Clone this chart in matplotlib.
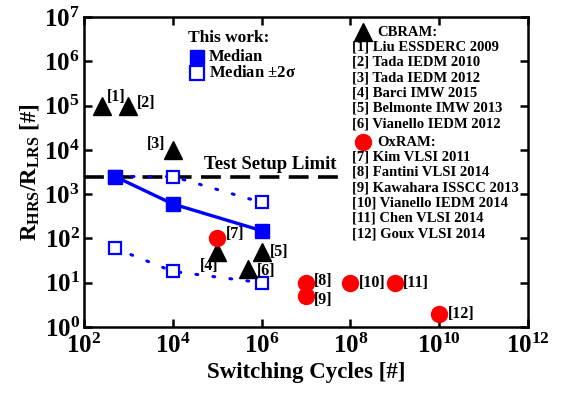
import matplotlib
matplotlib.use('Agg')
import matplotlib.pyplot as plt
from matplotlib.ticker import FixedLocator, FuncFormatter, NullLocator
import numpy as np

plt.rcParams['font.family'] = 'Liberation Serif'
plt.rcParams['font.weight'] = 'bold'
plt.rcParams['axes.labelweight'] = 'bold'
plt.rcParams['mathtext.fontset'] = 'custom'
plt.rcParams['mathtext.rm'] = 'Liberation Serif:bold'
plt.rcParams['mathtext.bf'] = 'Liberation Serif:bold'
plt.rcParams['mathtext.it'] = 'Liberation Serif:bold'

# this work: median and +/-2 sigma of the resistance window
work_cycles = [5e2, 1e4, 1e6]
work_median = [2500, 600, 150]
work_upper = [2500, 2500, 650]
work_lower = [60, 18, 10]

test_limit = 2500
test_limit_span = [1e2, 7e7]

# literature
cbram_refs = ['[1]', '[2]', '[3]', '[4]', '[5]', '[6]']
cbram_cycles = [2.5e2, 1e3, 1e4, 1e5, 1e6, 5e5]
cbram_ratio = [1e5, 1e5, 1e4, 50, 50, 20]
cbram_names = ['Liu ESSDERC 2009', 'Tada IEDM 2010', 'Tada IEDM 2012',
               'Barci IMW 2015', 'Belmonte IMW 2013', 'Vianello IEDM 2012']

oxram_refs = ['[7]', '[8]', '[9]', '[10]', '[11]', '[12]']
oxram_cycles = [1e5, 1e7, 1e7, 1e8, 1e9, 1e10]
oxram_ratio = [100, 10, 5, 10, 10, 2]
oxram_names = ['Kim VLSI 2011', 'Fantini VLSI 2014', 'Kawahara ISSCC 2013',
               'Vianello IEDM 2014', 'Chen VLSI 2014', 'Goux VLSI 2014']

# label offsets (points) and alignment for the reference tags
tag_style = {
    '[1]': (4, 6, 'left'), '[2]': (6, 1.5, 'left'), '[3]': (-5, 4, 'right'),
    '[4]': (1, -10, 'right'), '[5]': (6, 0, 'left'), '[6]': (6, -1, 'left'),
    '[7]': (6, 3, 'left'), '[8]': (6, 1.5, 'left'), '[9]': (6, -3, 'left'),
    '[10]': (6, 0, 'left'), '[11]': (6, 0, 'left'), '[12]': (6, 0, 'left'),
}

blue = '#0000ff'
red = '#ff0000'

fig = plt.figure(figsize=(5.65, 3.94), dpi=100)
ax = fig.add_axes([84 / 565, 67 / 394, 444 / 565, 310 / 394])
ax.set_xscale('log')
ax.set_yscale('log')
ax.set_xlim(1e2, 1e12)
ax.set_ylim(1e0, 1e7)

ax.plot(test_limit_span, [test_limit, test_limit], color='black', lw=2.6,
        dashes=(5.5, 2.6), zorder=2)
ax.text(10 ** 6.2, test_limit * 1.2, 'Test Setup Limit', ha='center', va='bottom',
        fontsize=13.5)

ax.plot(work_cycles, work_upper, color=blue, lw=2.2, ls=(0, (0.6, 5)),
        dash_capstyle='round', marker='s', ms=8.5, mfc='white', mec=blue, mew=1.6, zorder=3)
ax.plot(work_cycles, work_lower, color=blue, lw=2.2, ls=(0, (0.6, 5)),
        dash_capstyle='round', marker='s', ms=8.5, mfc='white', mec=blue, mew=1.6, zorder=3)
ax.plot(work_cycles, work_median, color=blue, lw=2.4, marker='s', ms=10, zorder=4)

ax.plot(cbram_cycles, cbram_ratio, ls='none', marker='^', ms=12.5, color='black', zorder=5)
ax.plot(oxram_cycles, oxram_ratio, ls='none', marker='o', ms=11.5, color=red, zorder=5)

for ref, cx, cy in zip(cbram_refs + oxram_refs, cbram_cycles + oxram_cycles,
                       cbram_ratio + oxram_ratio):
    dx, dy, ha = tag_style[ref]
    ax.annotate(ref, (cx, cy), xytext=(dx, dy), textcoords='offset points',
                ha=ha, va='center', fontsize=11.5)

# legend for this work
def axpos(px, py):
    return (px - 84) / 444, (327 - py) / 310

tx = ax.transAxes
ax.text(*axpos(188, 38), 'This work:', transform=tx, ha='left', va='center', fontsize=12.5)
ax.plot(*axpos(197, 57), marker='s', ms=10, color=blue, transform=tx, clip_on=False)
ax.text(*axpos(209, 57), 'Median', transform=tx, ha='left', va='center', fontsize=12)
ax.plot(*axpos(197, 73), marker='s', ms=10, mfc='white', mec=blue, mew=1.6,
        transform=tx, clip_on=False)
ax.text(*axpos(209, 73), r'Median $\pm$2$\sigma$', transform=tx, ha='left', va='center',
        fontsize=12)

# literature legend
ax.plot(*axpos(363, 32), marker='^', ms=12.5, color='black', transform=tx, clip_on=False)
ax.text(*axpos(377, 32), 'CBRAM:', transform=tx, ha='left', va='center', fontsize=10.5)
for i, (ref, name) in enumerate(zip(cbram_refs, cbram_names)):
    ax.text(*axpos(352, 47 + 15.3 * i), ref + ' ' + name, transform=tx,
            ha='left', va='center', fontsize=10.5)
ax.plot(*axpos(363, 142), marker='o', ms=11.5, color=red, transform=tx, clip_on=False)
ax.text(*axpos(377, 142), 'OxRAM:', transform=tx, ha='left', va='center', fontsize=10.5)
for i, (ref, name) in enumerate(zip(oxram_refs, oxram_names)):
    ax.text(*axpos(352, 157 + 15.3 * i), ref + ' ' + name, transform=tx,
            ha='left', va='center', fontsize=10.5)

# axes styling
for s in ax.spines.values():
    s.set_linewidth(1.8)
ax.xaxis.set_major_locator(FixedLocator([10.0 ** k for k in range(2, 13, 2)]))
ax.yaxis.set_major_locator(FixedLocator([10.0 ** k for k in range(0, 8)]))
ax.xaxis.set_minor_locator(NullLocator())
ax.yaxis.set_minor_locator(NullLocator())
fmt = FuncFormatter(lambda v, p: r'$10^{%d}$' % round(np.log10(v)))
ax.xaxis.set_major_formatter(fmt)
ax.yaxis.set_major_formatter(fmt)
ax.tick_params(which='major', direction='in', length=5.5, width=1.8,
               top=True, right=True, labelsize=18, pad=5)
ax.tick_params(axis='y', pad=3)

ax.set_xlabel('Switching Cycles [#]', fontsize=16.5, labelpad=3)
ax.set_ylabel(r'R$_{\rm HRS}$/R$_{\rm LRS}$ [#]', fontsize=16.5, labelpad=2)

fig.savefig('out.png', dpi=100)
